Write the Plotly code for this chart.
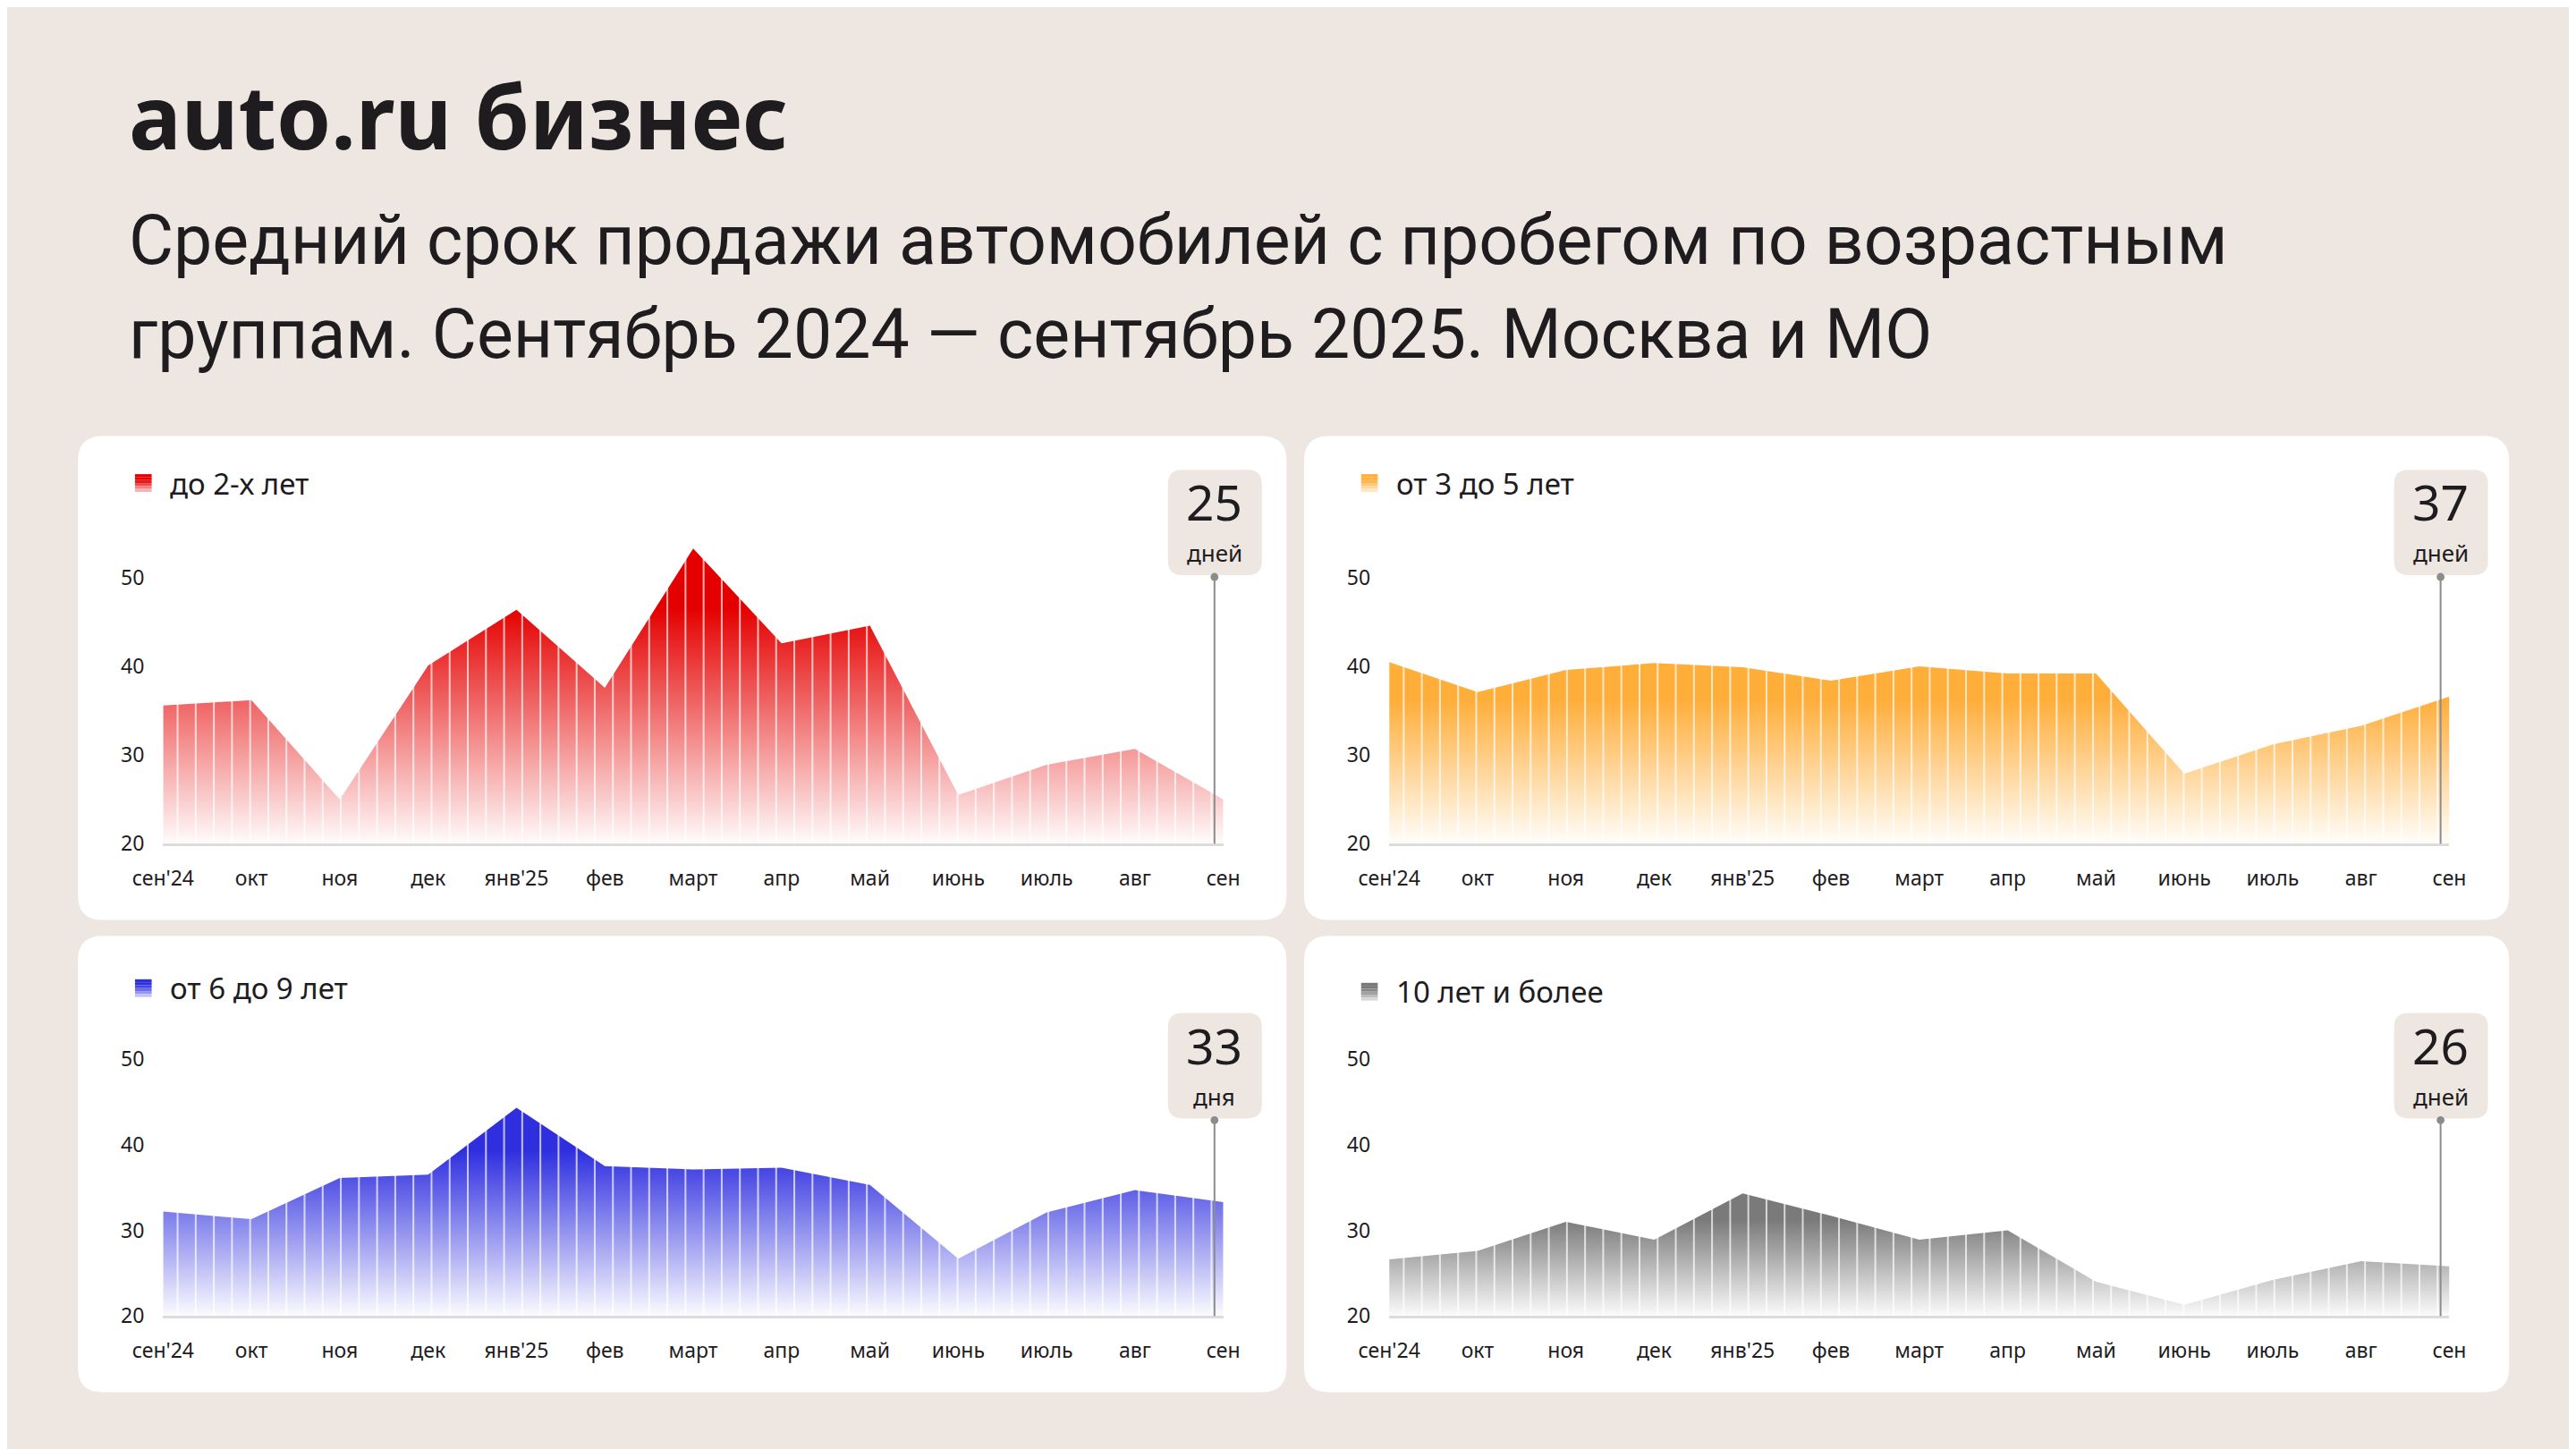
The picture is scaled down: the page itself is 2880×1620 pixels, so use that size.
import numpy as np
import plotly.graph_objects as go

W, H = 2880, 1620
PAGE_SHIFT = 8     # the page body margin moves the figure by this much

# ---- data ----
months = ["сен'24", "окт", "ноя", "дек", "янв'25", "фев", "март",
          "апр", "май", "июнь", "июль", "авг", "сен"]

upto_2 = [35.6, 36.2, 25.0, 40.1, 46.4, 37.6, 53.3, 42.6, 44.6, 25.5, 28.9, 30.7, 25.0]
from_3_to_5 = [40.5, 37.1, 39.6, 40.4, 39.9, 38.4, 40.0, 39.2, 39.2, 27.9, 31.2, 33.3, 36.6]
from_6_to_9 = [32.2, 31.3, 36.1, 36.5, 44.3, 37.5, 37.1, 37.3, 35.3, 26.7, 32.1, 34.7, 33.3]
over_10 = [26.6, 27.6, 31.0, 28.9, 34.3, 31.7, 28.9, 30.0, 24.0, 21.3, 24.2, 26.4, 25.8]

group_names = ["до 2-х лет", "от 3 до 5 лет", "от 6 до 9 лет", "10 лет и более"]
last_days = ["25", "37", "33", "26"]
last_units = ["дней", "дней", "дня", "дней"]
y_ticks = [20, 30, 40, 50]

series = [upto_2, from_3_to_5, from_6_to_9, over_10]
base_colors = [(229, 0, 0), (255, 174, 58), (47, 47, 224), (122, 122, 122)]

BG = "#EEE7E1"
TEXT = "#1E1C1F"
FONT = "Noto Sans"

# panel layout in pixels: (left, top, right, bottom), y of value 20, px per day,
# legend center y, badge top
panels = [
    dict(box=(53, 492, 1430, 1038), y20=952, unit=10.0, leg=545, badge=530),
    dict(box=(1450, 492, 2823, 1038), y20=952, unit=10.0, leg=545, badge=530),
    dict(box=(53, 1056, 1430, 1571), y20=1485, unit=9.67, leg=1115, badge=1143),
    dict(box=(1450, 1056, 2823, 1571), y20=1485, unit=9.67, leg=1119, badge=1143),
]
PLOT_DX = 97       # plot left relative to panel left
PLOT_W = 1208
Y_MAX = 56
MARK_X = 11.9      # position of the "last value" marker line
STRIPE_START, STRIPE_STEP = 0.164, 0.2053


def px(x):
    return (x - PAGE_SHIFT) / W


def py(y):
    return 1 - (y - PAGE_SHIFT) / H


def mix(c, t):
    r, g, b = [round(255 + (v - 255) * t) for v in c]
    return f"rgb({r},{g},{b})"


def round_rect(x0, y0, x1, y1, r, color, layer="below"):
    path = (f"M {px(x0 + r)},{py(y0)} L {px(x1 - r)},{py(y0)} Q {px(x1)},{py(y0)} {px(x1)},{py(y0 + r)} "
            f"L {px(x1)},{py(y1 - r)} Q {px(x1)},{py(y1)} {px(x1 - r)},{py(y1)} "
            f"L {px(x0 + r)},{py(y1)} Q {px(x0)},{py(y1)} {px(x0)},{py(y1 - r)} "
            f"L {px(x0)},{py(y0 + r)} Q {px(x0)},{py(y0)} {px(x0 + r)},{py(y0)} Z")
    return dict(type="path", xref="paper", yref="paper", path=path,
                fillcolor=color, line=dict(width=0), layer=layer)


def label(text, x, y, size, xanchor="left", yanchor="middle", family=FONT, weight=None):
    font = dict(family=family, size=size, color=TEXT)
    if weight:
        font["weight"] = weight
    return dict(text=text, x=px(x), y=py(y), xref="paper", yref="paper",
                xanchor=xanchor, yanchor=yanchor, showarrow=False, borderpad=0, font=font)


fig = go.Figure()
shapes = []
annotations = []
stripes = np.arange(STRIPE_START, 12, STRIPE_STEP)

for i, (vals, col, p) in enumerate(zip(series, base_colors, panels)):
    sfx = "" if i == 0 else str(i + 1)
    left, top, right, bottom = p["box"]
    x0 = left + PLOT_DX
    x1 = x0 + PLOT_W
    ytop = p["y20"] - (Y_MAX - 20) * p["unit"]

    shapes.append(round_rect(left, top, right, bottom, 28, "white"))

    fig.add_trace(go.Scatter(
        x=list(range(len(months))), y=vals, mode="lines",
        line=dict(width=0), fill="tozeroy",
        fillgradient=dict(type="vertical",
                          colorscale=[[0, "rgb(255,255,255)"], [1, mix(col, 1)]],
                          start=20, stop=20 + 0.8 * (max(vals) - 20)),
        xaxis="x" + sfx, yaxis="y" + sfx, hoverinfo="skip", showlegend=False,
    ))

    # thin white separators over the area
    sx, sy = [], []
    for s in stripes:
        sx += [s, s, None]
        sy += [20, Y_MAX, None]
    fig.add_trace(go.Scatter(
        x=sx, y=sy, mode="lines",
        line=dict(color="rgba(255,255,255,0.7)", width=2),
        xaxis="x" + sfx, yaxis="y" + sfx, hoverinfo="skip", showlegend=False,
    ))

    fig.layout["xaxis" + sfx] = dict(
        domain=[px(x0), px(x1)], anchor="y" + sfx, range=[0, 12],
        tickvals=list(range(len(months))), ticktext=months, ticks="",
        ticklabelstandoff=16,
        showline=True, linecolor="#DCDCDC", linewidth=3,
        showgrid=False, zeroline=False, fixedrange=True,
        tickfont=dict(family=FONT, size=23, color=TEXT),
    )
    fig.layout["yaxis" + sfx] = dict(
        domain=[py(p["y20"]), py(ytop)], anchor="x" + sfx, range=[20, Y_MAX],
        tickvals=y_ticks, ticks="", ticklabelstandoff=20,
        showline=False, showgrid=False, zeroline=False, fixedrange=True,
        tickfont=dict(family=FONT, size=23, color=TEXT),
    )

    # legend: small gradient square + label
    lx = left + 65
    ly = p["leg"] - 10
    steps = [1, 1, 0.9, 0.7, 0.5, 0.3]
    h = 20 / len(steps)
    for k, t in enumerate(steps):
        shapes.append(dict(type="rect", xref="paper", yref="paper",
                           x0=px(lx), x1=px(lx + 19), y0=py(ly + k * h), y1=py(ly + (k + 1) * h),
                           fillcolor=mix(col, t), line=dict(width=0), layer="above"))
    annotations.append(label(group_names[i], left + 104, p["leg"], 33))

    # badge with last value
    mx = x0 + MARK_X / 12 * PLOT_W
    bt = p["badge"]
    shapes.append(round_rect(mx - 53, bt, mx + 54, bt + 119, 16, BG, layer="above"))
    shapes.append(dict(type="line", xref="paper", yref="paper",
                       x0=px(mx), x1=px(mx), y0=py(bt + 121), y1=py(p["y20"]),
                       line=dict(color="#8C8C8C", width=2), layer="above"))
    shapes.append(dict(type="circle", xref="paper", yref="paper",
                       x0=px(mx - 4.5), x1=px(mx + 4.5), y0=py(bt + 116.5), y1=py(bt + 125.5),
                       fillcolor="#8C8C8C", line=dict(width=0), layer="above"))
    annotations.append(label(last_days[i], mx, bt + 75, 55, xanchor="center", yanchor="bottom"))
    annotations.append(label(last_units[i], mx, bt + 75, 26, xanchor="center", yanchor="top"))

# header
annotations.append(label("auto.ru бизнес", 110, 130, 98, weight=700))
annotations.append(label("Средний срок продажи автомобилей с пробегом по возрастным",
                         110, 271, 77, family="Roboto"))
annotations.append(label("группам. Сентябрь 2024 — сентябрь 2025. Москва и МО",
                         110, 377, 77, family="Roboto"))

fig.update_layout(
    width=W, height=H,
    margin=dict(l=0, r=0, t=0, b=0),
    paper_bgcolor=BG, plot_bgcolor="rgba(0,0,0,0)",
    shapes=shapes, annotations=annotations,
    showlegend=False,
)

fig.write_html("out.html")
